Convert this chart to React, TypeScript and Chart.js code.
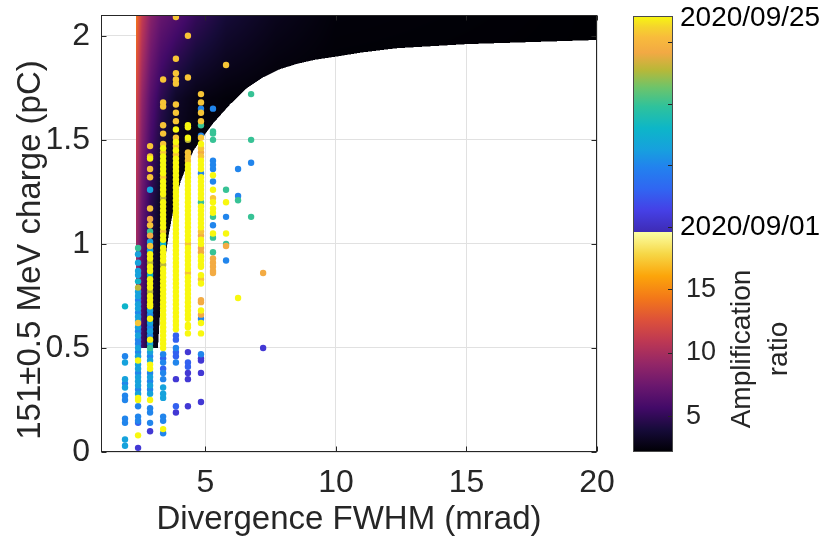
import React, { useEffect, useRef } from 'react';
import { Chart, registerables } from 'chart.js';
Chart.register(...registerables);

const FONT = '"Liberation Sans", Arial, Helvetica, sans-serif';
const INK = '#262626';
const GRID = '#e1e1e1';

// ---- axes ----
const xRange = [1, 20];
const yRange = [0, 2.1];
const xTicks = [5, 10, 15, 20];
const yTicks = [0, 0.5, 1, 1.5, 2];
const xTitle = 'Divergence FWHM (mrad)';
const yTitle = '151±0.5 MeV charge (pC)';

// ---- shot dates (day of September 2020) ----
const Y = 25, G = 23, O = 21, L = 19, T = 15, C = 12, S = 10, B = 8, B2 = 5, I = 2;

// divergence columns (mrad)
const colX = [1.92, 2.42, 2.88, 3.38, 3.87, 4.33, 4.83, 5.29, 5.79, 6.25, 6.75, 7.21];

// [charge (pC), day]
const col0 = [[0.70, C], [0.46, B], [0.43, S], [0.35, S], [0.33, B], [0.31, S], [0.27, B], [0.25, B], [0.16, B], [0.14, B], [0.06, S], [0.03, S]];
const col1 = [[0.98, T], [0.95, S], [0.91, S], [0.87, S], [0.85, S], [0.82, C], [0.79, L], [0.77, S], [0.75, S], [0.73, B], [0.71, S], [0.69, S], [0.67, B], [0.65, S], [0.63, S], [0.62, G], [0.60, S], [0.58, B], [0.56, S], [0.54, B], [0.52, B], [0.50, S], [0.48, B], [0.46, S], [0.44, Y], [0.42, S], [0.40, S], [0.38, B], [0.36, S], [0.34, S], [0.32, S], [0.30, B], [0.28, S], [0.26, Y], [0.25, Y], [0.22, B], [0.17, B], [0.15, B], [0.14, B2], [0.08, Y], [0.02, I]];
const col2 = [[1.47, G], [1.42, G], [1.41, Y], [1.36, G], [1.32, G], [1.26, S], [1.17, G], [1.12, O], [1.09, G], [1.06, T], [1.04, O], [1.01, S], [0.99, G], [0.97, S], [0.95, Y], [0.93, Y], [0.91, L], [0.89, Y], [0.87, Y], [0.85, C], [0.83, Y], [0.81, Y], [0.79, Y], [0.77, L], [0.75, Y], [0.73, Y], [0.71, Y], [0.70, Y], [0.68, S], [0.66, B], [0.64, Y], [0.62, S], [0.60, B], [0.58, S], [0.56, B], [0.54, Y], [0.52, S], [0.50, T], [0.48, S], [0.46, B], [0.44, S], [0.42, Y], [0.40, Y], [0.38, B], [0.36, S], [0.34, B], [0.32, S], [0.30, B], [0.28, S], [0.25, Y], [0.21, B], [0.19, B], [0.14, B], [0.10, I]];
const col3 = [[1.79, G], [1.68, G], [1.66, G], [1.57, G], [1.53, G], [1.48, G], [1.46, Y], [1.44, G], [1.42, Y], [1.40, Y], [1.38, Y], [1.36, Y], [1.34, Y], [1.32, G], [1.30, Y], [1.28, Y], [1.26, Y], [1.24, Y], [1.22, L], [1.20, Y], [1.18, Y], [1.16, Y], [1.14, Y], [1.12, Y], [1.10, Y], [1.08, Y], [1.06, G], [1.04, Y], [1.02, Y], [1.00, C], [0.98, Y], [0.96, Y], [0.94, Y], [0.92, Y], [0.90, L], [0.88, Y], [0.86, Y], [0.84, Y], [0.82, Y], [0.80, Y], [0.78, Y], [0.76, Y], [0.74, Y], [0.72, Y], [0.70, Y], [0.68, Y], [0.66, Y], [0.64, Y], [0.62, Y], [0.60, Y], [0.58, Y], [0.56, Y], [0.54, Y], [0.52, Y], [0.50, Y], [0.47, B], [0.45, B2], [0.43, B], [0.40, B2], [0.38, B], [0.35, B], [0.31, S], [0.28, S], [0.26, S], [0.17, B], [0.15, B], [0.11, Y], [0.09, B]];
const col4 = [[2.09, G], [1.89, G], [1.82, G], [1.79, G], [1.77, G], [1.67, G], [1.63, G], [1.59, G], [1.55, Y], [1.51, G], [1.49, Y], [1.47, G], [1.45, Y], [1.43, G], [1.41, Y], [1.39, Y], [1.37, Y], [1.35, Y], [1.33, Y], [1.31, Y], [1.29, Y], [1.27, Y], [1.25, Y], [1.23, Y], [1.21, Y], [1.19, Y], [1.17, Y], [1.15, Y], [1.13, Y], [1.11, Y], [1.09, Y], [1.07, Y], [1.05, Y], [1.03, Y], [1.01, Y], [0.99, Y], [0.97, Y], [0.95, Y], [0.93, Y], [0.91, Y], [0.89, Y], [0.87, Y], [0.85, Y], [0.83, Y], [0.81, Y], [0.79, Y], [0.77, Y], [0.75, Y], [0.73, Y], [0.71, Y], [0.69, Y], [0.67, Y], [0.65, Y], [0.63, Y], [0.61, Y], [0.59, Y], [0.56, B2], [0.54, B2], [0.50, B], [0.48, B2], [0.46, B2], [0.43, B], [0.35, I], [0.22, B2], [0.19, I]];
const col5 = [[2.00, G], [1.80, G], [1.57, Y], [1.56, Y], [1.51, Y], [1.50, L], [1.44, G], [1.42, G], [1.40, G], [1.38, Y], [1.36, Y], [1.34, Y], [1.32, Y], [1.30, Y], [1.28, Y], [1.26, Y], [1.24, Y], [1.22, Y], [1.20, Y], [1.18, Y], [1.16, Y], [1.14, Y], [1.12, Y], [1.10, Y], [1.08, Y], [1.06, Y], [1.04, Y], [1.02, Y], [1.00, G], [0.98, Y], [0.96, Y], [0.94, Y], [0.92, Y], [0.90, Y], [0.88, Y], [0.86, G], [0.84, Y], [0.82, Y], [0.80, Y], [0.78, Y], [0.76, Y], [0.74, Y], [0.72, Y], [0.70, Y], [0.68, Y], [0.66, Y], [0.64, Y], [0.61, Y], [0.60, Y], [0.57, Y], [0.48, I], [0.43, B2], [0.41, B2], [0.38, I], [0.35, I], [0.22, I]];
const col6 = [[1.72, G], [1.68, G], [1.65, B], [1.63, G], [1.59, G], [1.57, T], [1.52, B], [1.51, G], [1.48, Y], [1.46, G], [1.44, O], [1.42, G], [1.40, Y], [1.38, Y], [1.36, Y], [1.34, B], [1.32, Y], [1.30, Y], [1.28, Y], [1.26, Y], [1.24, Y], [1.22, Y], [1.20, T], [1.18, Y], [1.16, Y], [1.14, Y], [1.12, Y], [1.10, Y], [1.08, Y], [1.06, G], [1.04, O], [1.02, Y], [1.00, Y], [0.98, O], [0.96, O], [0.94, Y], [0.92, Y], [0.90, Y], [0.89, Y], [0.85, Y], [0.83, G], [0.81, Y], [0.73, O], [0.72, O], [0.68, Y], [0.66, O], [0.64, B], [0.62, Y], [0.57, Y], [0.47, B], [0.45, I], [0.44, I], [0.38, I], [0.24, I]];
const col7 = [[1.65, B], [1.54, T], [1.53, T], [1.50, T], [1.40, B], [1.38, B], [1.36, B], [1.33, Y], [1.30, B], [1.26, Y], [1.22, G], [1.20, Y], [1.17, Y], [1.15, Y], [1.13, T], [1.09, B], [1.05, Y], [1.03, T], [0.96, T], [0.93, O], [0.91, O], [0.89, O], [0.87, O], [0.86, O]];
const col8 = [[1.86, G], [1.26, T], [1.20, Y], [1.13, B], [1.05, Y], [1.00, T], [0.99, O], [0.92, B]];
const col9 = [[1.36, B], [1.23, B], [1.21, T], [0.74, Y]];
const col10 = [[1.72, T], [1.50, T], [1.39, B], [1.13, T]];
const col11 = [[0.86, O], [0.50, I]];
const columns = [col0, col1, col2, col3, col4, col5, col6, col7, col8, col9, col10, col11];

// ---- colorbars ----
const dateRange = [0.43, 25];
const dateTickDays = [1, 8, 15, 22];
const dateLabelDays = [25, 1];
const dateLabelTexts = ['2020/09/25', '2020/09/01'];
const ampRange = [2.2, 19.5];
const ampTicks = [5, 10, 15];
const ampTitle = ['Amplification', 'ratio'];

// ---- amplification-ratio map (background) ----
const heatX = [2.34, 2.57, 2.91, 3.30, 3.87, 4.64, 5.79, 7.70, 10.0, 20.0];
const heatY = [0.5, 1.2, 1.7, 2.1];
const heatAt05 = [8.8, 5.7, 3.2, 2.4, 2.2, 2.2, 2.2, 2.2, 2.2, 2.2];
const heatAt12 = [10.3, 7.4, 4.8, 3.1, 2.4, 2.2, 2.2, 2.2, 2.2, 2.2];
const heatAt17 = [12.2, 9.1, 6.5, 4.8, 3.4, 2.7, 2.4, 2.2, 2.2, 2.2];
const heatAt21 = [14.3, 11.2, 8.6, 7.2, 6.4, 5.1, 3.9, 3.0, 2.4, 2.2];
const heatRows = [heatAt05, heatAt12, heatAt17, heatAt21];
const edgeX = [3.18, 3.30, 3.45, 3.60, 3.80, 4.05, 4.30, 4.55, 5.0, 5.3, 5.94, 6.6, 7.2, 7.86, 8.5, 9.2, 10, 11, 12.3, 15, 20];
const edgeY = [0.50, 0.75, 0.92, 1.05, 1.18, 1.30, 1.38, 1.45, 1.53, 1.58, 1.67, 1.75, 1.80, 1.84, 1.865, 1.885, 1.90, 1.92, 1.94, 1.96, 1.98];

// ---- colormaps (style) ----
const parulaStops: [number, string][] = [[0, '#3e2bb5'], [0.1, '#4540e6'], [0.2, '#3066f2'], [0.3, '#2282ee'], [0.38, '#17a0de'], [0.48, '#0db6c8'], [0.58, '#2ec29c'], [0.67, '#6ec46a'], [0.75, '#b8b838'], [0.83, '#f2a944'], [0.9, '#f8bb3c'], [0.95, '#f5d52c'], [1, '#f8f80f']];
const infernoStops: [number, string][] = [[0, '#000004'], [0.1, '#160b39'], [0.2, '#420a68'], [0.3, '#6a176e'], [0.4, '#932667'], [0.5, '#bc3754'], [0.6, '#dd513a'], [0.7, '#f37819'], [0.8, '#fca50a'], [0.9, '#f6d746'], [1, '#fcffa4']];

function hexRgb(h: string) {
  return [parseInt(h.slice(1, 3), 16), parseInt(h.slice(3, 5), 16), parseInt(h.slice(5, 7), 16)];
}
function cmap(stops: [number, string][], t: number) {
  t = Math.max(0, Math.min(1, t));
  for (let i = 1; i < stops.length; i++) {
    if (t <= stops[i][0]) {
      const [t0, c0] = stops[i - 1];
      const [t1, c1] = stops[i];
      const f = (t - t0) / (t1 - t0);
      const a = hexRgb(c0), b = hexRgb(c1);
      return [0, 1, 2].map(k => Math.round(a[k] + (b[k] - a[k]) * f));
    }
  }
  return hexRgb(stops[stops.length - 1][1]);
}
function dateColor(d: number) {
  const c = cmap(parulaStops, (d - dateRange[0]) / (dateRange[1] - dateRange[0]));
  return `rgb(${c[0]},${c[1]},${c[2]})`;
}
function seg(xs: number[], v: number) {
  if (v <= xs[0]) return [0, 0];
  for (let i = 1; i < xs.length; i++) if (v <= xs[i]) return [i - 1, (v - xs[i - 1]) / (xs[i] - xs[i - 1])];
  return [xs.length - 2, 1];
}
function edgeAt(x: number) {
  if (x <= edgeX[0]) return edgeY[0];
  const [i, f] = seg(edgeX, x);
  return edgeY[i] + (edgeY[i + 1] - edgeY[i]) * f;
}
function heatAt(x: number, y: number) {
  const [i, fx] = seg(heatX, x);
  const [j, fy] = seg(heatY, y);
  const r0 = heatRows[j][i] + (heatRows[j][i + 1] - heatRows[j][i]) * fx;
  const r1 = heatRows[j + 1][i] + (heatRows[j + 1][i + 1] - heatRows[j + 1][i]) * fx;
  return r0 + (r1 - r0) * fy;
}
function inHeat(x: number, y: number) {
  return x >= heatX[0] && y >= heatY[0] && y >= edgeAt(x);
}

const heatPlugin = {
  id: 'heat',
  beforeDatasetsDraw(chart: any) {
    const { ctx, chartArea: a, scales } = chart;
    const xs = scales.x, ys = scales.y;
    const w = Math.round(a.right - a.left), h = Math.round(a.bottom - a.top);
    const off = document.createElement('canvas');
    off.width = w; off.height = h;
    const octx = off.getContext('2d')!;
    const img = octx.createImageData(w, h);
    const sub = [0.25, 0.75];
    for (let j = 0; j < h; j++) {
      for (let i = 0; i < w; i++) {
        let cover = 0;
        for (const sy of sub) for (const sx of sub) {
          if (inHeat(xs.getValueForPixel(a.left + i + sx), ys.getValueForPixel(a.top + j + sy))) cover++;
        }
        if (!cover) continue;
        const xv = xs.getValueForPixel(a.left + i + 0.5);
        const yv = ys.getValueForPixel(a.top + j + 0.5);
        const v = heatAt(Math.max(xv, heatX[0]), Math.max(yv, heatY[0]));
        const c = cmap(infernoStops, (v - ampRange[0]) / (ampRange[1] - ampRange[0]));
        const k = (j * w + i) * 4;
        img.data[k] = c[0]; img.data[k + 1] = c[1]; img.data[k + 2] = c[2];
        img.data[k + 3] = Math.round((cover / 4) * 255);
      }
    }
    octx.putImageData(img, 0, 0);
    ctx.drawImage(off, a.left, a.top);
  },
};

const boxPlugin = {
  id: 'box',
  afterDatasetsDraw(chart: any) {
    const { ctx, chartArea: a, scales } = chart;
    const l = Math.round(a.left) + 0.5, r = Math.round(a.right) - 0.5;
    const t = Math.round(a.top) + 0.5, b = Math.round(a.bottom) - 0.5;
    ctx.save();
    ctx.strokeStyle = INK;
    ctx.lineWidth = 1;
    ctx.strokeRect(l, t, r - l, b - t);
    const tl = 5;
    ctx.beginPath();
    xTicks.forEach(v => {
      const px = Math.round(scales.x.getPixelForValue(v)) + 0.5;
      ctx.moveTo(px, b); ctx.lineTo(px, b - tl);
      ctx.moveTo(px, t); ctx.lineTo(px, t + tl);
    });
    yTicks.forEach(v => {
      const py = Math.round(scales.y.getPixelForValue(v)) + 0.5;
      ctx.moveTo(l, py); ctx.lineTo(l + tl, py);
      ctx.moveTo(r, py); ctx.lineTo(r - tl, py);
    });
    ctx.stroke();
    // y-axis title
    ctx.fillStyle = INK;
    ctx.font = `33px ${FONT}`;
    ctx.textAlign = 'center';
    ctx.textBaseline = 'middle';
    ctx.translate(31, 250);
    ctx.rotate(-Math.PI / 2);
    ctx.fillText(yTitle, 0, 0);
    ctx.restore();
  },
};

const colorbarPlugin = {
  id: 'colorbar',
  afterDraw(chart: any) {
    const { ctx } = chart;
    const L = 633, R = 673, top = 16, mid = 232, bot = 452;
    ctx.save();
    const g1 = ctx.createLinearGradient(0, mid, 0, top);
    parulaStops.forEach(([t, c]) => g1.addColorStop(t, c));
    ctx.fillStyle = g1;
    ctx.fillRect(L, top, R - L, mid - top);
    const g2 = ctx.createLinearGradient(0, bot, 0, mid);
    infernoStops.forEach(([t, c]) => g2.addColorStop(t, c));
    ctx.fillStyle = g2;
    ctx.fillRect(L, mid, R - L, bot - mid);
    ctx.strokeStyle = '#4a4a4a';
    ctx.lineWidth = 1;
    ctx.strokeRect(L + 0.5, top + 0.5, R - L - 1, bot - top - 1);
    const dateY = (d: number) => mid - ((d - dateRange[0]) / (dateRange[1] - dateRange[0])) * (mid - top);
    const ampY = (v: number) => bot - ((v - ampRange[0]) / (ampRange[1] - ampRange[0])) * (bot - mid);
    ctx.strokeStyle = INK;
    ctx.beginPath();
    dateTickDays.forEach(d => { const y = Math.round(dateY(d)) + 0.5; ctx.moveTo(R - 1, y); ctx.lineTo(R - 5, y); });
    ampTicks.forEach(v => { const y = Math.round(ampY(v)) + 0.5; ctx.moveTo(R - 1, y); ctx.lineTo(R - 5, y); });
    ctx.stroke();
    ctx.textAlign = 'left';
    ctx.textBaseline = 'middle';
    ctx.fillStyle = '#000';
    ctx.font = `28px ${FONT}`;
    dateLabelDays.forEach((d, i) => ctx.fillText(dateLabelTexts[i], 680, Math.max(dateY(d), top + 2)));
    ctx.fillStyle = INK;
    ctx.font = `27px ${FONT}`;
    ampTicks.forEach(v => ctx.fillText(String(v), 686, ampY(v)));
    ctx.font = `28px ${FONT}`;
    ctx.textAlign = 'center';
    ctx.translate(742, 349);
    ctx.rotate(-Math.PI / 2);
    ctx.fillText(ampTitle[0], 0, 0);
    ctx.fillText(ampTitle[1], 0, 37);
    ctx.restore();
  },
};

export default function App() {
  const ref = useRef<HTMLCanvasElement>(null);
  useEffect(() => {
    Chart.defaults.font.family = FONT;
    const pts: { x: number; y: number; d: number }[] = [];
    columns.forEach((col, k) => col.forEach(([yv, d]) => pts.push({ x: colX[k], y: yv, d })));
    pts.sort((p, q) => p.d - q.d);
    const chart = new Chart(ref.current!, {
      type: 'scatter',
      data: {
        datasets: [{
          data: pts.map(p => ({ x: p.x, y: p.y })),
          pointBackgroundColor: pts.map(p => dateColor(p.d)),
          pointBorderWidth: 0,
          pointRadius: 3.2,
          pointHoverRadius: 3.2,
        }],
      },
      options: {
        animation: false,
        responsive: true,
        maintainAspectRatio: false,
        layout: { padding: { left: 0, top: 15, right: 228, bottom: 0 } },
        plugins: { legend: { display: false }, tooltip: { enabled: false } },
        events: [],
        scales: {
          x: {
            type: 'linear',
            min: xRange[0],
            max: xRange[1],
            afterBuildTicks: (s: any) => { s.ticks = xTicks.map(v => ({ value: v })); },
            afterFit: (s: any) => { s.height = 97; s.paddingLeft = 0; s.paddingRight = 0; },
            grid: { color: GRID, lineWidth: 1, drawTicks: false },
            border: { display: false },
            ticks: { font: { family: FONT, size: 32 }, color: INK, padding: 12, maxRotation: 0, autoSkip: false, callback: (v: any) => String(v) },
            title: { display: true, text: xTitle, font: { family: FONT, size: 33 }, color: INK, padding: { top: 0, bottom: 9 } },
          },
          y: {
            type: 'linear',
            min: yRange[0],
            max: yRange[1],
            afterBuildTicks: (s: any) => { s.ticks = yTicks.map(v => ({ value: v })); },
            afterFit: (s: any) => { s.width = 101; s.paddingTop = 0; s.paddingBottom = 0; },
            grid: { color: GRID, lineWidth: 1, drawTicks: false },
            border: { display: false },
            ticks: { font: { family: FONT, size: 32 }, color: INK, padding: 11, autoSkip: false, callback: (v: any) => String(v) },
            title: { display: false },
          },
        },
      },
      plugins: [heatPlugin, boxPlugin, colorbarPlugin],
    });
    return () => chart.destroy();
  }, []);
  return (
    <div style={{ position: 'fixed', left: 0, top: 0, width: 825, height: 549, background: '#fff' }}>
      <canvas ref={ref} />
    </div>
  );
}
